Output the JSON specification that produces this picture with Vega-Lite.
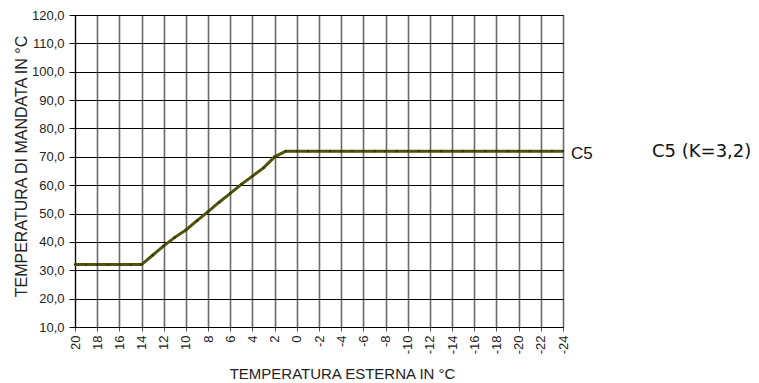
{
  "$schema": "https://vega.github.io/schema/vega-lite/v6.json",
  "autosize": {"type": "none"},
  "width": 488,
  "height": 312,
  "padding": {"left": 75, "top": 15, "right": 196, "bottom": 56},
  "background": "white",
  "config": {
    "font": "Liberation Sans",
    "view": {"stroke": "black", "strokeWidth": 1}
  },
  "data": {
    "values": [
      {"t": 20, "v": 32}, {"t": 19, "v": 32}, {"t": 18, "v": 32}, {"t": 17, "v": 32},
      {"t": 16, "v": 32}, {"t": 15, "v": 32}, {"t": 14, "v": 32}, {"t": 13, "v": 35.3},
      {"t": 12, "v": 38.6}, {"t": 11, "v": 41.6}, {"t": 10, "v": 44.2}, {"t": 9, "v": 47.5},
      {"t": 8, "v": 50.7}, {"t": 7, "v": 54}, {"t": 6, "v": 57.1}, {"t": 5, "v": 60.3},
      {"t": 4, "v": 63.2}, {"t": 3, "v": 66.1}, {"t": 2, "v": 70}, {"t": 1, "v": 72},
      {"t": 0, "v": 72}, {"t": -1, "v": 72}, {"t": -2, "v": 72}, {"t": -3, "v": 72},
      {"t": -4, "v": 72}, {"t": -5, "v": 72}, {"t": -6, "v": 72}, {"t": -7, "v": 72},
      {"t": -8, "v": 72}, {"t": -9, "v": 72}, {"t": -10, "v": 72}, {"t": -11, "v": 72},
      {"t": -12, "v": 72}, {"t": -13, "v": 72}, {"t": -14, "v": 72}, {"t": -15, "v": 72},
      {"t": -16, "v": 72}, {"t": -17, "v": 72}, {"t": -18, "v": 72}, {"t": -19, "v": 72},
      {"t": -20, "v": 72}, {"t": -21, "v": 72}, {"t": -22, "v": 72}, {"t": -23, "v": 72},
      {"t": -24, "v": 72}
    ]
  },
  "encoding": {
    "x": {
      "field": "t", "type": "quantitative",
      "scale": {"domain": [20, -24], "nice": false, "zero": false},
      "axis": {
        "values": [20, 18, 16, 14, 12, 10, 8, 6, 4, 2, 0, -2, -4, -6, -8, -10, -12, -14, -16, -18, -20, -22, -24],
        "labelExpr": "'' + datum.value",
        "labelAngle": -90,
        "labelFontSize": 13,
        "labelColor": "#222",
        "labelPadding": 4,
        "tickSize": 4,
        "tickColor": "#555",
        "domainColor": "black",
        "grid": true,
        "gridColor": "#6a6a6a",
        "gridWidth": 1.6,
        "title": "TEMPERATURA ESTERNA IN °C",
        "titleFontSize": 15,
        "titleFontWeight": "normal",
        "titleColor": "#222",
        "titlePadding": 13,
        "titleX": 267
      }
    },
    "y": {
      "field": "v", "type": "quantitative",
      "scale": {"domain": [10, 120], "nice": false, "zero": false},
      "axis": {
        "values": [10, 20, 30, 40, 50, 60, 70, 80, 90, 100, 110, 120],
        "labelExpr": "replace(format(datum.value, '.1f'), '.', ',')",
        "labelFontSize": 13,
        "labelColor": "#222",
        "labelPadding": 5,
        "tickSize": 6,
        "tickColor": "black",
        "domainColor": "black",
        "grid": true,
        "gridColor": "black",
        "gridWidth": 1,
        "title": "TEMPERATURA DI MANDATA IN °C",
        "titleFontSize": 16,
        "titleFontWeight": "normal",
        "titleColor": "#222",
        "titlePadding": 2,
        "titleY": 151
      }
    }
  },
  "layer": [
    {"mark": {"type": "line", "color": "#525208", "strokeWidth": 3}},
    {"mark": {"type": "square", "color": "#35350a", "size": 5, "opacity": 1, "filled": true}},
    {
      "transform": [{"filter": "datum.t == -24"}],
      "mark": {"type": "text", "text": "C5", "align": "left", "baseline": "middle", "dx": 8, "dy": 3, "fontSize": 17, "color": "#111"}
    },
    {
      "transform": [{"filter": "datum.t == -24"}],
      "mark": {"type": "text", "text": "C5 (K=3,2)", "font": "DejaVu Sans", "align": "left", "baseline": "middle", "dx": 89, "dy": 1, "fontSize": 18, "color": "#111", "clip": false}
    }
  ]
}
